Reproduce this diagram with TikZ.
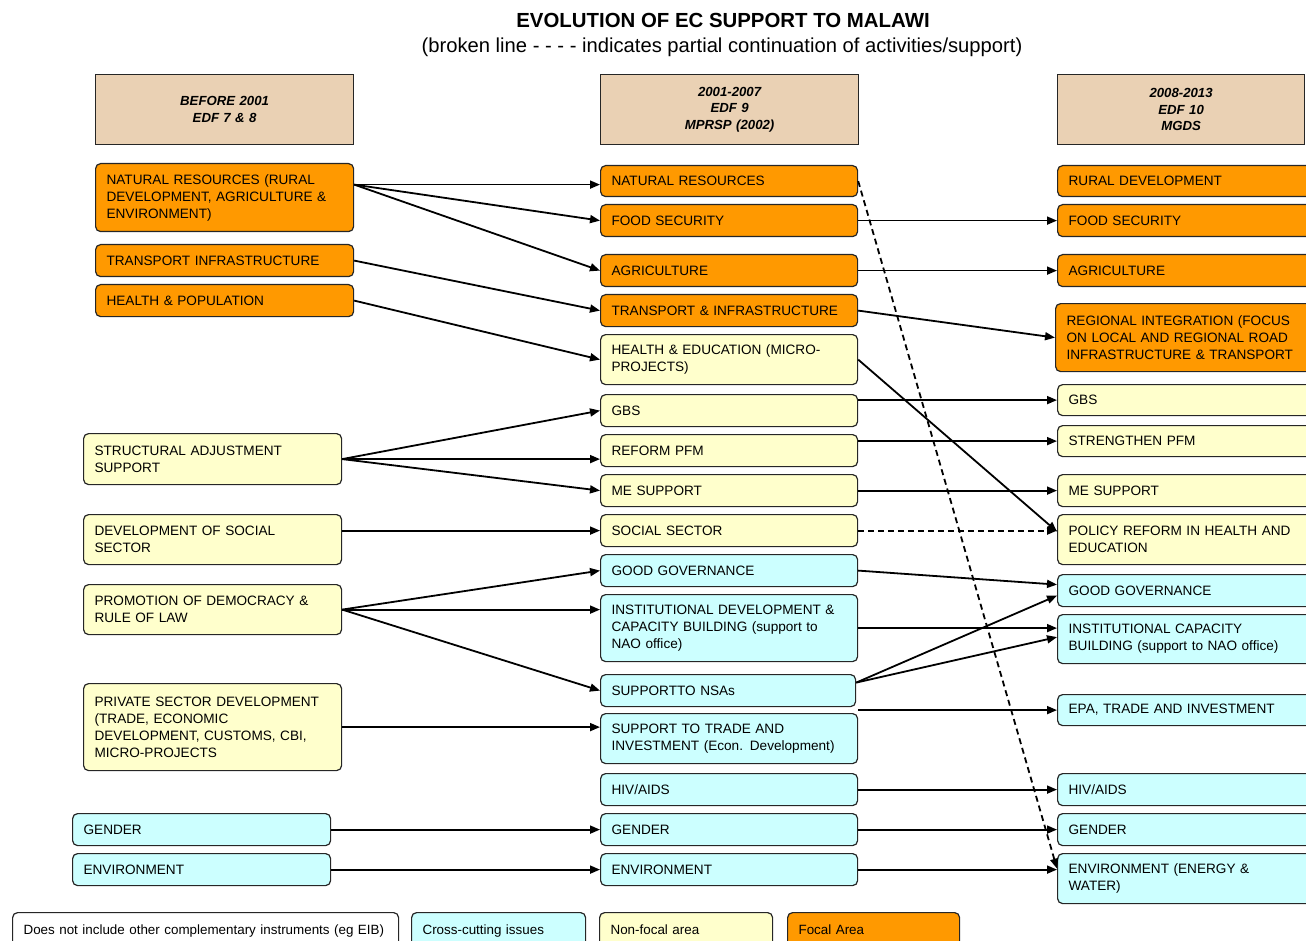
\documentclass[tikz,border=0pt]{standalone}
\usepackage{fontspec}
\setmainfont{Liberation Sans}
\usetikzlibrary{arrows.meta,positioning}
\definecolor{focalorange}{HTML}{FF9900}
\definecolor{nonfocalyellow}{HTML}{FFFFCC}
\definecolor{crosscyan}{HTML}{CCFFFF}
\definecolor{periodtan}{HTML}{EAD1B4}
\tikzset{
  box/.style={draw=black!85,line width=.6pt,rounded corners=2.5pt,anchor=north west,align=left,
    inner xsep=5.5pt,inner ysep=1pt,font=\fontsize{6.8}{8.5}\selectfont},
  focalbox/.style={box,fill=focalorange},
  nonfocalbox/.style={box,fill=nonfocalyellow},
  crossbox/.style={box,fill=crosscyan},
  colA/.style={text width=118pt},
  colB/.style={text width=117.5pt},
  colC/.style={text width=124pt},
  ht/.style={minimum height=#1*.5pt},
  periodbox/.style={draw=black!85,line width=.6pt,fill=periodtan,anchor=north west,align=center,
    inner xsep=5.5pt,text width=118pt,minimum height=35pt,font=\fontsize{6.6}{8.4}\selectfont\bfseries\itshape},
  legendbox/.style={box,ht=36,text height=5pt,text depth=1.5pt,font=\fontsize{6.7}{8}\selectfont},
  link/.style={-{Triangle[length=5pt,width=4pt]},line width=.9pt},
  partial/.style={link,dash pattern=on 3pt off 2pt}
}
\begin{document}
\begin{tikzpicture}[x=.5pt,y=-.5pt]
\useasboundingbox (0,0) rectangle (1306,941);
\clip (0,0) rectangle (1306,941);
\node[font=\fontsize{10.2}{12}\selectfont\bfseries] (title) at (723,20) {EVOLUTION OF EC SUPPORT TO MALAWI};
\node[font=\fontsize{10.1}{12}\selectfont] (subtitle) at (722,47) {(broken line - - - - indicates partial continuation of activities/support)};

\node[periodbox] (before) at (95,74) {BEFORE 2001\\EDF 7 \& 8};
\node[periodbox] (edfnine) at (600,74) {2001-2007\\EDF 9\\MPRSP (2002)};
\node[periodbox,text width=112.5pt] (edften) at (1057,74) {2008-2013\\EDF 10\\MGDS};

\node[focalbox,colA,ht=68] (natres) at (95,163) {NATURAL RESOURCES (RURAL\\DEVELOPMENT, AGRICULTURE \&\\ENVIRONMENT)};
\node[focalbox,colA,ht=32] (transport) at (95,244) {TRANSPORT INFRASTRUCTURE};
\node[focalbox,colA,ht=32] (healthpop) at (95,284) {HEALTH \& POPULATION};
\node[nonfocalbox,colA,ht=51] (structadj) at (83,433) {STRUCTURAL ADJUSTMENT\\SUPPORT};
\node[nonfocalbox,colA,ht=50] (devsocial) at (83,514) {DEVELOPMENT OF SOCIAL\\SECTOR};
\node[nonfocalbox,colA,ht=50] (democracy) at (83,584) {PROMOTION OF DEMOCRACY \&\\RULE OF LAW};
\node[nonfocalbox,colA,ht=87] (private) at (83,683) {PRIVATE SECTOR DEVELOPMENT\\(TRADE, ECONOMIC\\DEVELOPMENT, CUSTOMS, CBI,\\MICRO-PROJECTS};
\node[crossbox,colA,ht=32] (genderA) at (72,813) {GENDER};
\node[crossbox,colA,ht=32] (envA) at (72,853) {ENVIRONMENT};

\node[focalbox,colB,ht=31] (natresB) at (600,165) {NATURAL RESOURCES};
\node[focalbox,colB,ht=32] (foodB) at (600,204) {FOOD SECURITY};
\node[focalbox,colB,ht=32] (agriB) at (600,254) {AGRICULTURE};
\node[focalbox,colB,ht=32] (transB) at (600,294) {TRANSPORT \& INFRASTRUCTURE};
\node[nonfocalbox,colB,ht=50] (healthB) at (600,334) {HEALTH \& EDUCATION (MICRO-\\PROJECTS)};
\node[nonfocalbox,colB,ht=32] (gbsB) at (600,394) {GBS};
\node[nonfocalbox,colB,ht=32] (pfmB) at (600,434) {REFORM PFM};
\node[nonfocalbox,colB,ht=32] (meB) at (600,474) {ME SUPPORT};
\node[nonfocalbox,colB,ht=32] (socialB) at (600,514) {SOCIAL SECTOR};
\node[crossbox,colB,ht=32] (govB) at (600,554) {GOOD GOVERNANCE};
\node[crossbox,colB,ht=67] (instB) at (600,594) {INSTITUTIONAL DEVELOPMENT \&\\CAPACITY BUILDING (support to\\NAO office)};
\node[crossbox,colB,ht=32,text width=116.5pt] (nsaB) at (600,674) {SUPPORTTO NSAs};
\node[crossbox,colB,ht=50] (tradeB) at (600,713) {SUPPORT TO TRADE AND\\INVESTMENT (Econ. Development)};
\node[crossbox,colB,ht=32] (hivB) at (600,773) {HIV/AIDS};
\node[crossbox,colB,ht=32] (genderB) at (600,813) {GENDER};
\node[crossbox,colB,ht=32] (envB) at (600,853) {ENVIRONMENT};

\node[focalbox,colC,ht=31] (ruralC) at (1057,165) {RURAL DEVELOPMENT};
\node[focalbox,colC,ht=32] (foodC) at (1057,204) {FOOD SECURITY};
\node[focalbox,colC,ht=32] (agriC) at (1057,254) {AGRICULTURE};
\node[focalbox,colC,ht=68] (regionC) at (1055,303) {REGIONAL INTEGRATION (FOCUS\\ON LOCAL AND REGIONAL ROAD\\INFRASTRUCTURE \& TRANSPORT};
\node[nonfocalbox,colC,ht=31] (gbsC) at (1057,384) {GBS};
\node[nonfocalbox,colC,ht=31] (pfmC) at (1057,425) {STRENGTHEN PFM};
\node[nonfocalbox,colC,ht=32] (meC) at (1057,474) {ME SUPPORT};
\node[nonfocalbox,colC,ht=50] (policyC) at (1057,514) {POLICY REFORM IN HEALTH AND\\EDUCATION};
\node[crossbox,colC,ht=32] (govC) at (1057,574) {GOOD GOVERNANCE};
\node[crossbox,colC,ht=49] (instC) at (1057,614) {INSTITUTIONAL CAPACITY\\BUILDING (support to NAO office)};
\node[crossbox,colC,ht=31] (epaC) at (1057,694) {EPA, TRADE AND INVESTMENT};
\node[crossbox,colC,ht=32] (hivC) at (1057,773) {HIV/AIDS};
\node[crossbox,colC,ht=32] (genderC) at (1057,813) {GENDER};
\node[crossbox,colC,ht=50] (envC) at (1057,853) {ENVIRONMENT (ENERGY \&\\WATER)};

\node[legendbox,fill=white,text width=182pt] (legnote) at (12,912) {Does not include other complementary instruments (eg EIB)};
\node[legendbox,fill=crosscyan,text width=76pt] (legcross) at (411,912) {Cross-cutting issues};
\node[legendbox,fill=nonfocalyellow,text width=75.5pt] (legnonfocal) at (599,912) {Non-focal area};
\node[legendbox,fill=focalorange,text width=75pt] (legfocal) at (787,912) {Focal Area};

\coordinate (natresout) at ([yshift=6.5pt]natres.east);
\draw[link] (natresout) -- (natresout -| natresB.west);
\foreach \t in {foodB,agriB} \draw[link] (natresout) -- (\t.west);
\draw[link] (transport.east) -- (transB.west);
\draw[link] (healthpop.east) -- (healthB.west);
\foreach \t in {gbsB,meB} \draw[link] (structadj.east) -- (\t.west);
\draw[link] (structadj.east) -- (structadj.east -| pfmB.west);
\draw[link] (socialB.west -| devsocial.east) -- (socialB.west);
\foreach \t in {govB,nsaB} \draw[link] (democracy.east) -- (\t.west);
\draw[link] (democracy.east) -- (democracy.east -| instB.west);
\draw[link] (private.east) -- (private.east -| tradeB.west);
\draw[link] (genderA.east) -- (genderB.west);
\draw[link] (envA.east) -- (envB.west);

\coordinate (nsaout) at ([yshift=4pt]nsaB.east);
\foreach \s/\t in {foodB/foodC,agriB/agriC,transB/regionC,meB/meC,hivB/hivC,genderB/genderC} \draw[link] (\s.east) -- (\t.west);
\draw[link] (healthB.east) -- ([yshift=4pt]policyC.west);
\draw[link] (gbsC.west -| gbsB.east) -- (gbsC.west);
\draw[link] (pfmC.west -| pfmB.east) -- (pfmC.west);
\draw[link] (govB.east) -- ([yshift=3pt]govC.west);
\draw[link] (instB.east) -- (instB.east -| instC.west);
\draw[link] (nsaout) -- ([yshift=-2.5pt]govC.west);
\draw[link] (nsaout) -- ([yshift=1pt]instC.west);
\draw[link] (epaC.west -| tradeB.east) -- (epaC.west);
\draw[link] (envB.east) -- (envB.east -| envC.west);
\draw[partial] (socialB.east) -- (socialB.east -| policyC.west);
\draw[partial] (natresB.east) -- ([yshift=5pt]envC.west);
\end{tikzpicture}
\end{document}
